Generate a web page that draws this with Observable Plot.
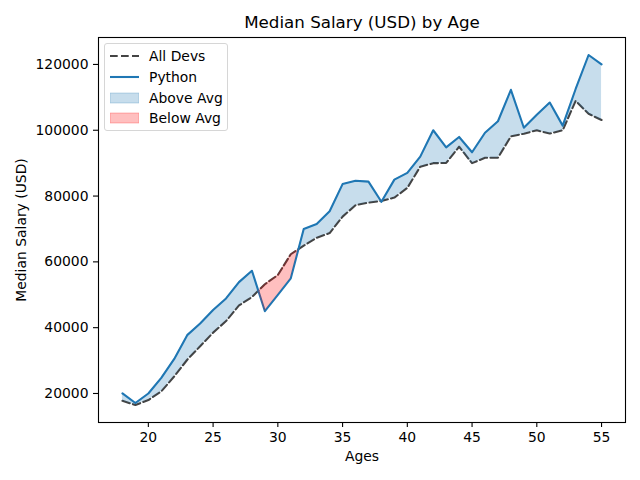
<!DOCTYPE html>
<html><head><meta charset="utf-8">
<script src="https://cdn.jsdelivr.net/npm/d3@7"></script>
<script src="https://cdn.jsdelivr.net/npm/@observablehq/plot@0.6"></script>
<style>
body{margin:0;background:#fff;font-family:"DejaVu Sans",sans-serif;}
#wrap{position:relative;width:640px;height:480px;}
#legend{position:absolute;left:104px;top:43px;width:124px;height:88px;border:1px solid #d6d6d6;border-radius:3px;background:rgba(255,255,255,0.8);box-sizing:border-box;}
.row{position:absolute;left:0;height:20px;display:flex;align-items:center;font-size:13.9px;color:#000;}
.row svg{margin-left:5px;margin-right:10px;}
</style>
</head><body>
<div id="wrap"></div>
<script>
const ages = [18,19,20,21,22,23,24,25,26,27,28,29,30,31,32,33,34,35,36,37,38,39,40,41,42,43,44,45,46,47,48,49,50,51,52,53,54,55];
const devSalary = [17784,16500,18012,20628,25206,30252,34368,38496,42000,46752,49320,53200,56000,62316,64928,67317,68748,73752,77232,78000,78508,79536,82488,88935,90000,90056,95000,90000,91633,91660,98150,98964,100000,98988,100000,108923,105000,103117];
const pySalary = [20046,17100,20000,24744,30500,37732,41247,45372,48876,53850,57287,45000,50000,55000,70000,71496,75370,83640,84666,84392,78254,85000,87038,91991,100000,94796,97962,93302,99240,102736,112285,100771,104708,108423,101407,112542,122870,120000];
const yTicks = [20000,40000,60000,80000,100000,120000];
const xTicks = [20,25,30,35,40,45,50,55];

const rows = ages.map((a,i)=>({age:a, dev:devSalary[i], py:pySalary[i]}));
// densify with crossing points (like fill_between interpolate=True)
const dense = [];
for (let i=0;i<rows.length;i++){
  dense.push(rows[i]);
  if (i<rows.length-1){
    const d0 = rows[i].py-rows[i].dev, d1 = rows[i+1].py-rows[i+1].dev;
    if (d0*d1<0){
      const t = d0/(d0-d1);
      const dv = rows[i].dev + t*(rows[i+1].dev-rows[i].dev);
      dense.push({age: rows[i].age + t*(rows[i+1].age-rows[i].age), dev: dv, py: dv});
    }
  }
}

const font = "DejaVu Sans, sans-serif";
const LW = 2.08, DASH = "7.7,3.3";
const chart = Plot.plot({
  width:640, height:480,
  marginLeft:98, marginRight:15, marginTop:37, marginBottom:58,
  style:{fontFamily:font, fontSize:"13.9px", color:"#000", background:"#fff"},
  x:{domain:[16.15,56.85], ticks:xTicks, tickSize:5, tickPadding:5, tickFormat:d=>String(d), label:null},
  y:{domain:[11181.5,128188.5], ticks:yTicks, tickSize:5, tickPadding:5, tickFormat:d=>String(d), label:null},
  marks:[
    Plot.line(rows,{x:"age", y:"dev", stroke:"#444444", strokeWidth:LW, strokeDasharray:DASH}),
    Plot.line(rows,{x:"age", y:"py", stroke:"#1f77b4", strokeWidth:LW}),
    Plot.areaY(dense,{x:"age", y1:"dev", y2:d=>Math.max(d.py,d.dev), fill:"#1f77b4", fillOpacity:0.25}),
    Plot.areaY(dense,{x:"age", y1:"dev", y2:d=>Math.min(d.py,d.dev), fill:"red", fillOpacity:0.25}),
    Plot.frame({stroke:"#000", strokeWidth:1.1}),
    Plot.axisX({ticks:xTicks, tickSize:5, tickPadding:5, tickFormat:d=>String(d), label:null, strokeWidth:1.1}),
    Plot.axisY({ticks:yTicks, tickSize:5, tickPadding:5, tickFormat:d=>String(d), label:null, strokeWidth:1.1}),
    Plot.text(["Median Salary (USD) by Age"],{frameAnchor:"top", lineAnchor:"middle", textAnchor:"middle", dy:-14.5, fontSize:16.7, fill:"#000"}),
    Plot.text(["Ages"],{frameAnchor:"bottom", lineAnchor:"middle", textAnchor:"middle", dy:34, fontSize:13.9, fill:"#000"}),
    Plot.text(["Median Salary (USD)"],{frameAnchor:"left", lineAnchor:"middle", textAnchor:"middle", dx:-77, rotate:-90, fontSize:13.9, fill:"#000"})
  ]
});
const wrap = document.getElementById("wrap");
wrap.appendChild(chart);

const legendItems = [
  {label:"All Devs", type:"dash", color:"#444444"},
  {label:"Python", type:"line", color:"#1f77b4"},
  {label:"Above Avg", type:"patch", color:"rgba(31,119,180,0.25)"},
  {label:"Below Avg", type:"patch", color:"rgba(255,0,0,0.25)"}
];
const leg = document.createElement("div");
leg.id = "legend";
legendItems.forEach((it,i)=>{
  const r = document.createElement("div");
  r.className = "row";
  r.style.top = (2 + i*20.8) + "px";
  let sym;
  if (it.type==="dash") sym = `<line x1="0" x2="29" y1="7" y2="7" stroke="${it.color}" stroke-width="${LW}" stroke-dasharray="${DASH}"/>`;
  else if (it.type==="line") sym = `<line x1="0" x2="29" y1="7" y2="7" stroke="${it.color}" stroke-width="${LW}"/>`;
  else sym = `<rect x="0" y="2" width="29" height="10" fill="${it.color}" stroke="${it.color}"/>`;
  r.innerHTML = `<svg width="29" height="14">${sym}</svg><span>${it.label}</span>`;
  leg.appendChild(r);
});
wrap.appendChild(leg);
</script>
</body></html>
